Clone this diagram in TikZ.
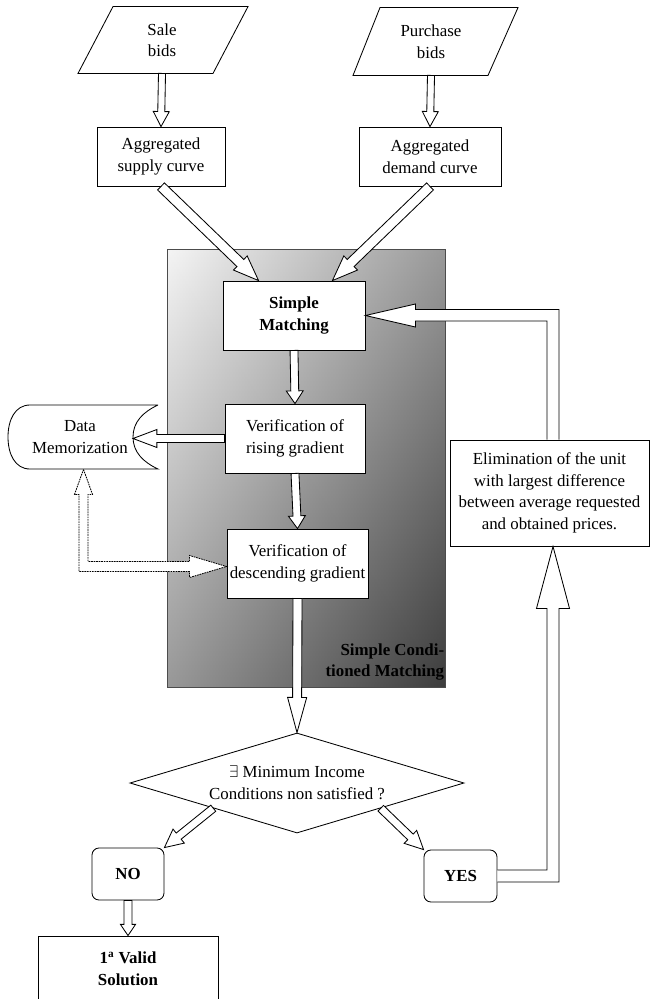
\documentclass[tikz,border=0pt]{standalone}
\usepackage{fontspec}
\setmainfont{Liberation Serif}
\usetikzlibrary{calc,shapes.geometric}

% 空心粗箭头: 起点, 终点, 杆半宽, 头半宽, 头长
\newcommand{\fat}[5]{%
  \draw[fill=white] let \p3=($(#2)!#5!(#1)$) in
    ($(#1)!#3!90:(#2)$) -- ($(\p3)!#3!90:(#2)$) -- ($(\p3)!#4!90:(#2)$) -- (#2)
    -- ($(\p3)!#4!-90:(#2)$) -- ($(\p3)!#3!-90:(#2)$) -- ($(#1)!#3!-90:(#2)$) -- cycle;}

\begin{document}
\begin{tikzpicture}[x=0.025cm, y=-0.025cm, line width=0.6pt,
    font=\fontsize{12}{15.3}\selectfont,
    box/.style={draw, fill=white, align=center, inner sep=0pt},
    rbox/.style={box, rounded corners=5pt, font=\fontsize{12}{15.3}\selectfont\bfseries}]
    \clip (0,0) rectangle (651,999);

    % 灰色背景框 (两层渐变叠加)
    \shade[left color=black!4, right color=black!76] (167,249) rectangle (445,687);
    \shade[top color=black!4, bottom color=black!76, opacity=0.5] (167,249) rectangle (445,687);
    \draw[black!70] (167,249) rectangle (445,687);
    \node[font=\fontsize{12}{15}\selectfont\bfseries, align=right, anchor=south east, inner sep=1pt] (scm) at (446,682) {Simple Condi-\\tioned Matching};

    % 输入
    \node[minimum height=1.65cm, align=center] (sale) at (162,40) {Sale\\bids};
    \draw ($(sale.south)+(-84,0)$) -- ($(sale.south)+(51,0)$) -- ($(sale.north)+(86,0)$) -- ($(sale.north)+(-49,0)$) -- cycle;
    \node[minimum height=1.675cm, align=center] (purchase) at (431,41.5) {Purchase\\bids};
    \draw ($(purchase.south)+(-78,0)$) -- ($(purchase.south)+(57,0)$) -- ($(purchase.north)+(87,0)$) -- ($(purchase.north)+(-51,0)$) -- cycle;

    \node[box, minimum width=3.2cm, minimum height=1.475cm] (supply) at (161,156.5) {Aggregated\\supply curve};
    \node[box, minimum width=3.55cm, minimum height=1.475cm] (demand) at (430,156.5) {Aggregated\\demand curve};

    % 流程
    \node[box, minimum width=3.55cm, minimum height=1.725cm, font=\fontsize{12}{15.3}\selectfont\bfseries] (smatch) at (294,315.5) {Simple\\Matching};
    \node[box, minimum width=3.5cm, minimum height=1.725cm] (rising) at (295,438.5) {Verification of\\rising gradient};
    \node[box, minimum width=3.525cm, minimum height=1.725cm] (desc) at (297.5,563.5) {Verification of\\descending gradient};
    \draw[fill=white] (158,405) -- (30,405) .. controls (15,405) and (8,420) .. (8,437) .. controls (8,454) and (15,469) .. (30,469)
        -- (158,469) .. controls (143,462) and (133,452) .. (133,437) .. controls (133,422) and (143,412) .. (158,405);
    \node (dm) at (80,437) [minimum height=1.6cm, align=center] {Data\\Memorization};
    \coordinate (dmr) at (133,438.5);

    \node[draw, fill=white, diamond, aspect=3.34, minimum width=8.35cm, minimum height=2.5cm, inner sep=0pt, align=center] (cond) at (297,783) {$\exists$ Minimum Income\\Conditions non satisfied ?};
    \node[rbox, minimum width=1.8cm, minimum height=1.3cm] (no) at (128,874) {NO};
    \node[rbox, minimum width=1.825cm, minimum height=1.3cm] (yes) at (460.5,876) {YES};
    \node[box, minimum width=4.5cm, minimum height=1.625cm, font=\fontsize{12}{15.3}\selectfont\bfseries] (valid) at (128,968.5) {1\textsuperscript{a} Valid\\Solution};
    \node[box, minimum width=4.975cm, minimum height=2.65cm] (elim) at (549.5,493) {Elimination of the unit\\with largest difference\\between average requested\\and obtained prices.};

    % 箭头
    \coordinate (sm1) at ($(smatch.north west)+(36,0)$);
    \coordinate (sm2) at ($(smatch.north east)+(-33,0)$);
    \fat{sale.south}{supply.north}{2.5pt}{5.7pt}{10.7pt}
    \fat{purchase.south}{demand.north}{2.5pt}{5.7pt}{10.7pt}
    \fat{supply.south}{sm1}{3.5pt}{7pt}{18pt}
    \fat{demand.south}{sm2}{3.5pt}{7pt}{18pt}
    \fat{smatch.south}{rising.north}{2.8pt}{6pt}{9pt}
    \fat{rising.south}{desc.north}{2.8pt}{6pt}{9pt}
    \fat{rising.west}{dmr}{2.8pt}{6.4pt}{17pt}
    \fat{desc.south}{cond.north}{3.2pt}{6.8pt}{25pt}
    \fat{cond.south west}{no.north east}{2.8pt}{6.4pt}{13pt}
    \fat{cond.south east}{yes.north west}{2.8pt}{6.4pt}{13pt}
    \fat{no.south}{valid.north}{2.8pt}{5.4pt}{8pt}

    % 回路
    \draw[fill=white] ($(elim.north)+(-2.5,0)$) |- ($(smatch.east)+(50,5.5)$) -- ++(0,6) -- (smatch.east)
        -- ($(smatch.east)+(50,-11.5)$) -- ++(0,5.5) -| ($(elim.north)+(9.5,0)$);
    \draw[fill=white] ($(yes.east)+(0,-6)$) -| ($(elim.south)+(-2.5,62)$) -- ++(-10.5,0) -- ($(elim.south)+(3.5,0)$)
        -- ($(elim.south)+(20,62)$) -- ++(-10.5,0) |- ($(yes.east)+(0,6)$);

    % 虚线双向箭头
    \coordinate (dtop) at ($(dm.south)+(3.5,0)$);
    \coordinate (dtip) at ($(desc.west)+(0,3)$);
    \draw[dash pattern=on 1.2pt off 0.6pt, fill=white] (dtop) -- ++(9,25) -- ++(-4.5,0) |- ($(dtip)+(-37,-5)$) -- ++(0,-6) -- (dtip)
        -- ($(dtip)+(-37,11)$) -- ++(0,-6) -| ($(dtop)+(-4.5,25)$) -- ++(-4.5,0) -- cycle;
\end{tikzpicture}
\end{document}
